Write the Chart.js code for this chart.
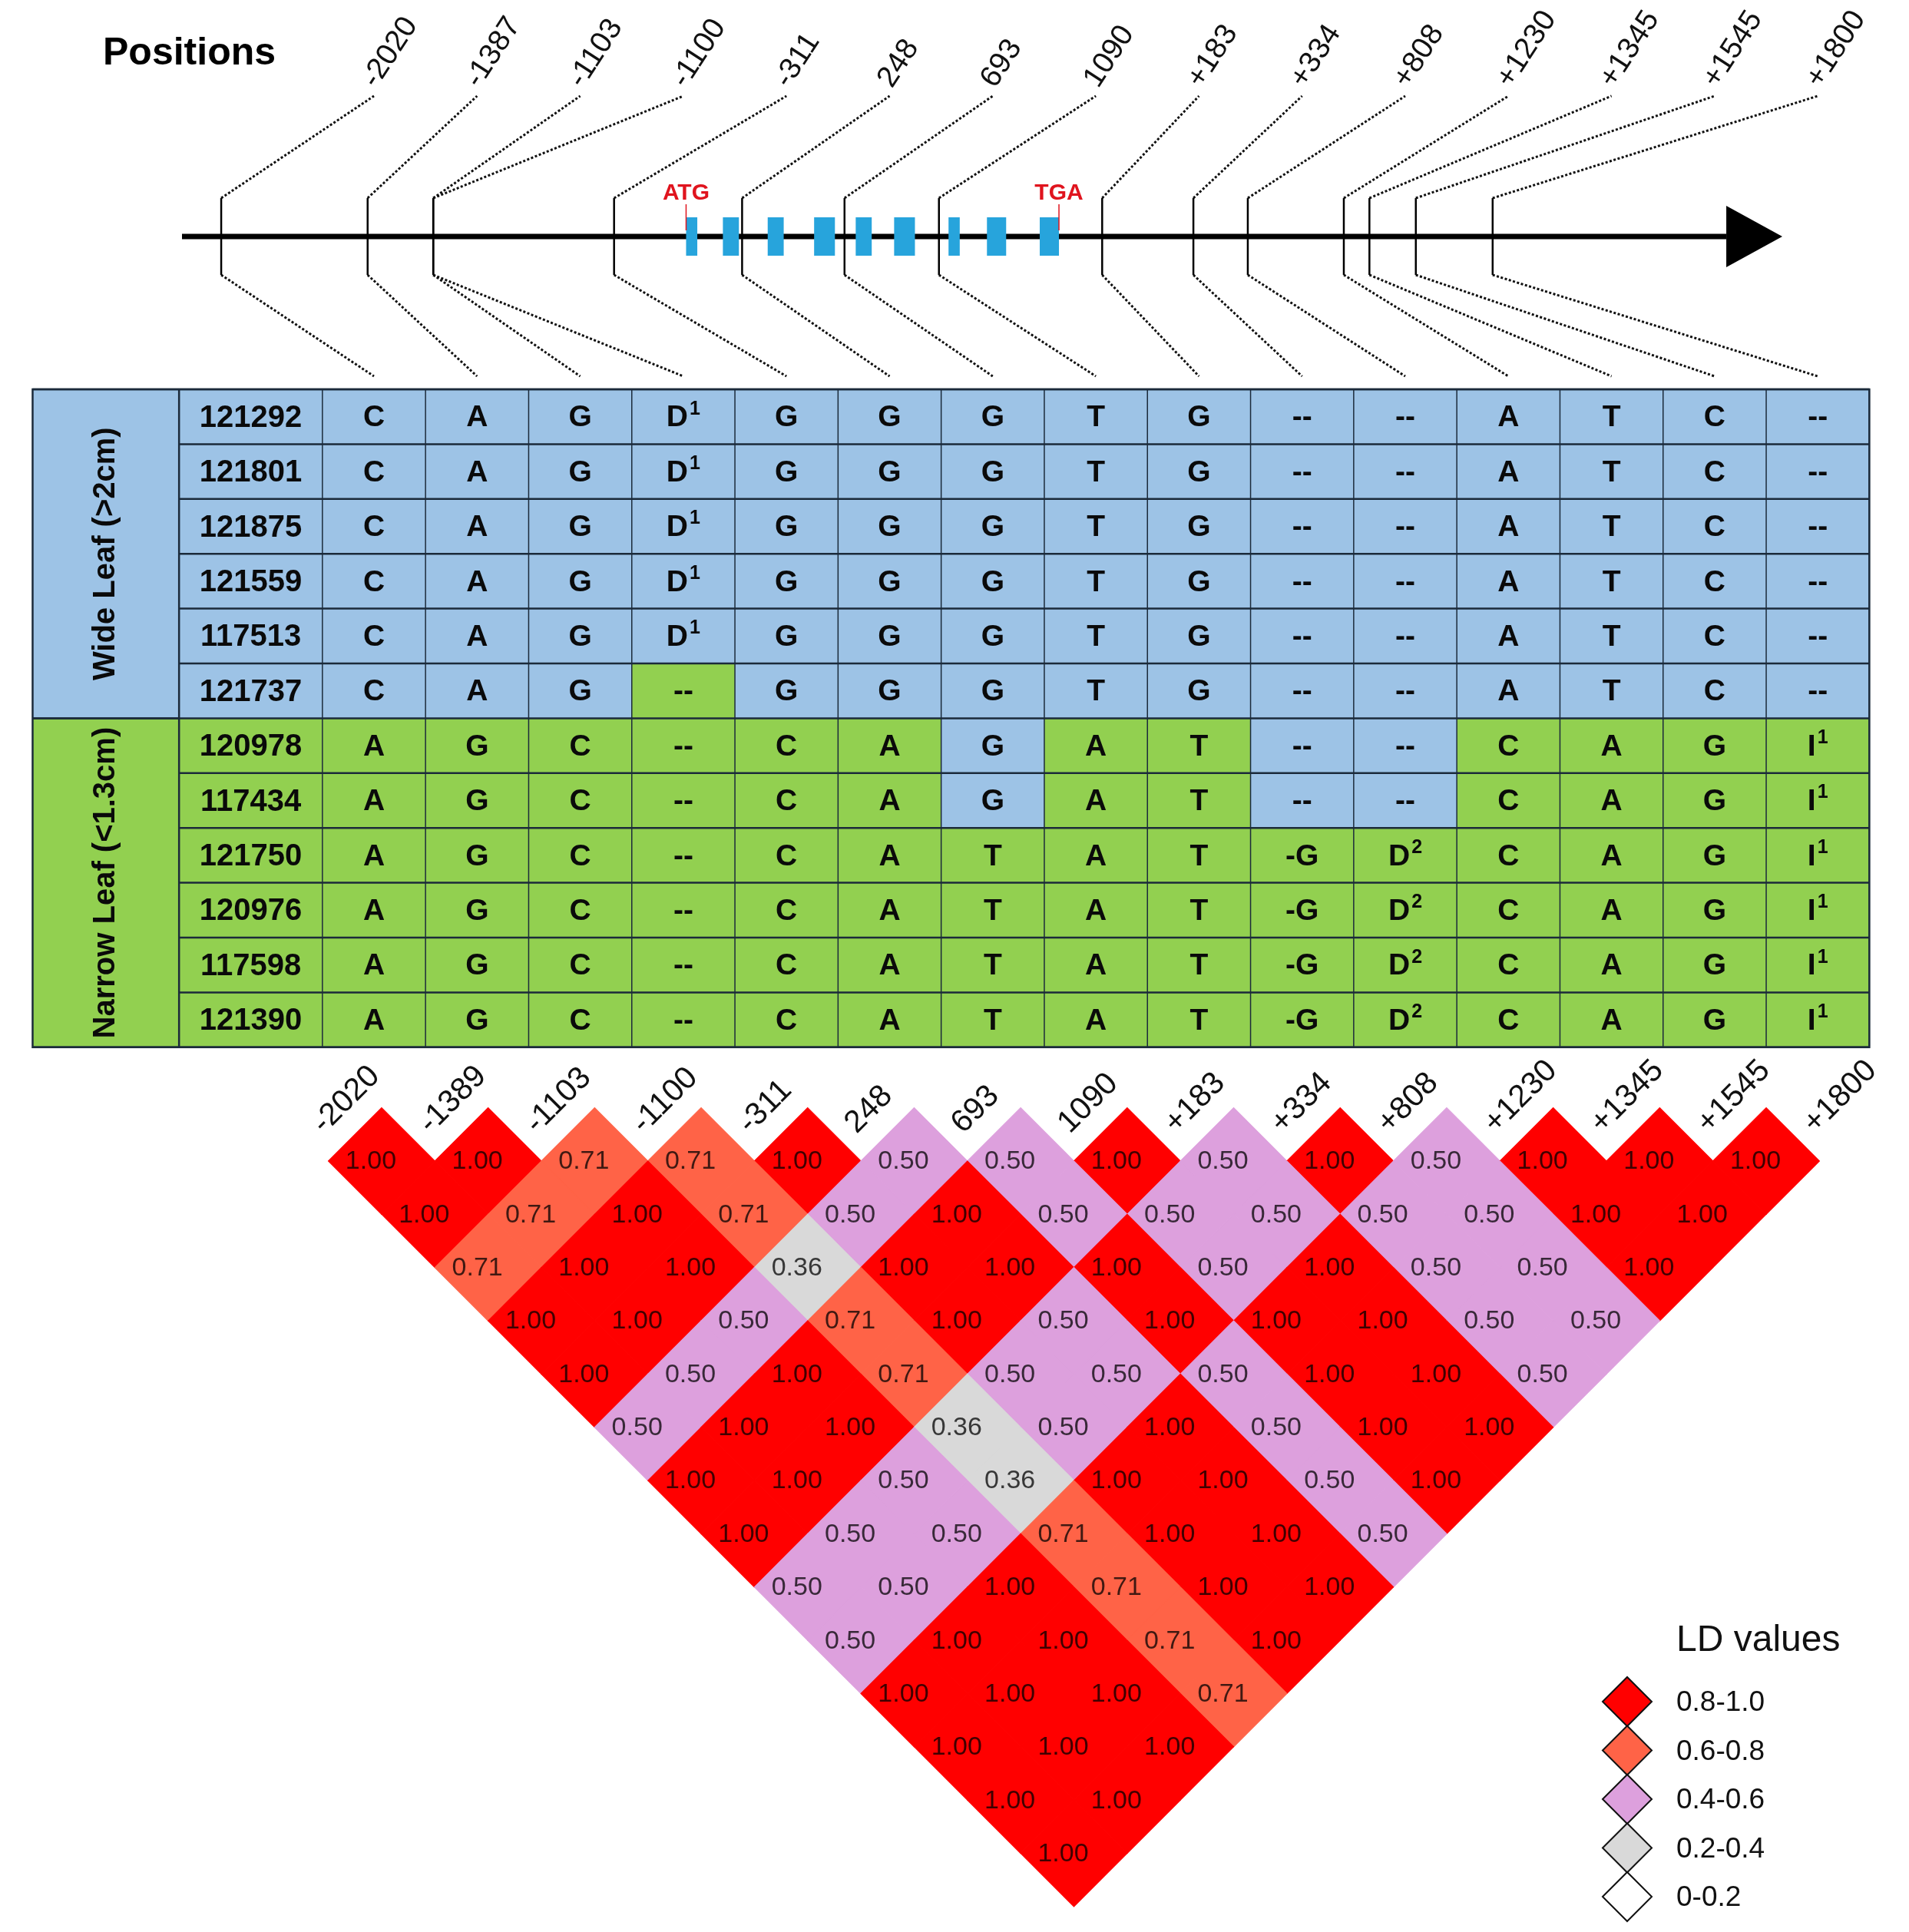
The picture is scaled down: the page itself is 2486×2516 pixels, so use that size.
<!DOCTYPE html>
<html lang="en">
<head>
<meta charset="UTF-8">
<title>Haplotypes and LD</title>
<script src="https://cdnjs.cloudflare.com/ajax/libs/Chart.js/4.4.0/chart.umd.min.js"></script>
<style>
  html, body { margin: 0; padding: 0; background: #fff; overflow: hidden; }
  .wrap { width: 2486px; height: 2516px; position: relative; }
</style>
</head>
<body>
<div class="wrap"><canvas id="chart"></canvas></div>
<script>
// ---- data ----
const snpLabels = ["-2020", "-1387", "-1103", "-1100", "-311", "248", "693", "1090", "+183", "+334", "+808", "+1230", "+1345", "+1545", "+1800"];
const ldLabels  = ["-2020", "-1389", "-1103", "-1100", "-311", "248", "693", "1090", "+183", "+334", "+808", "+1230", "+1345", "+1545", "+1800"];

// schematic gene map, backbone runs 0..100
const snpMapPos = [2.45, 11.6, 15.7, 15.7, 27.0, 35.0, 41.4, 47.3, 57.5, 63.2, 66.6, 72.6, 74.2, 77.1, 81.9];
const exonStart = [31.5, 33.8, 36.6, 39.5, 42.1, 44.5, 47.9, 50.3, 53.6];
const exonEnd   = [32.2, 34.8, 37.6, 40.8, 43.1, 45.8, 48.6, 51.5, 54.8];

const groupNames = ["Wide Leaf (>2cm)", "Narrow Leaf (<1.3cm)"];
const sampleIds = ["121292", "121801", "121875", "121559", "117513", "121737",
                   "120978", "117434", "121750", "120976", "117598", "121390"];
const sampleGroup = [0, 0, 0, 0, 0, 0, 1, 1, 1, 1, 1, 1];
const haplotypes = [
  ["C", "A", "G", "D^1", "G", "G", "G", "T", "G", "--", "--", "A", "T", "C", "--"],
  ["C", "A", "G", "D^1", "G", "G", "G", "T", "G", "--", "--", "A", "T", "C", "--"],
  ["C", "A", "G", "D^1", "G", "G", "G", "T", "G", "--", "--", "A", "T", "C", "--"],
  ["C", "A", "G", "D^1", "G", "G", "G", "T", "G", "--", "--", "A", "T", "C", "--"],
  ["C", "A", "G", "D^1", "G", "G", "G", "T", "G", "--", "--", "A", "T", "C", "--"],
  ["C", "A", "G", "--",  "G", "G", "G", "T", "G", "--", "--", "A", "T", "C", "--"],
  ["A", "G", "C", "--",  "C", "A", "G", "A", "T", "--", "--", "C", "A", "G", "I^1"],
  ["A", "G", "C", "--",  "C", "A", "G", "A", "T", "--", "--", "C", "A", "G", "I^1"],
  ["A", "G", "C", "--",  "C", "A", "T", "A", "T", "-G", "D^2", "C", "A", "G", "I^1"],
  ["A", "G", "C", "--",  "C", "A", "T", "A", "T", "-G", "D^2", "C", "A", "G", "I^1"],
  ["A", "G", "C", "--",  "C", "A", "T", "A", "T", "-G", "D^2", "C", "A", "G", "I^1"],
  ["A", "G", "C", "--",  "C", "A", "T", "A", "T", "-G", "D^2", "C", "A", "G", "I^1"]
];

// LD values, one list per SNP distance (1 = neighbours)
const ldByDistance = [
  [1.00, 1.00, 0.71, 0.71, 1.00, 0.50, 0.50, 1.00, 0.50, 1.00, 0.50, 1.00, 1.00, 1.00],
  [1.00, 0.71, 1.00, 0.71, 0.50, 1.00, 0.50, 0.50, 0.50, 0.50, 0.50, 1.00, 1.00],
  [0.71, 1.00, 1.00, 0.36, 1.00, 1.00, 1.00, 0.50, 1.00, 0.50, 0.50, 1.00],
  [1.00, 1.00, 0.50, 0.71, 1.00, 0.50, 1.00, 1.00, 1.00, 0.50, 0.50],
  [1.00, 0.50, 1.00, 0.71, 0.50, 0.50, 0.50, 1.00, 1.00, 0.50],
  [0.50, 1.00, 1.00, 0.36, 0.50, 1.00, 0.50, 1.00, 1.00],
  [1.00, 1.00, 0.50, 0.36, 1.00, 1.00, 0.50, 1.00],
  [1.00, 0.50, 0.50, 0.71, 1.00, 1.00, 0.50],
  [0.50, 0.50, 1.00, 0.71, 1.00, 1.00],
  [0.50, 1.00, 1.00, 0.71, 1.00],
  [1.00, 1.00, 1.00, 0.71],
  [1.00, 1.00, 1.00],
  [1.00, 1.00],
  [1.00]
];

const ldBinLabels = ["0.8-1.0", "0.6-0.8", "0.4-0.6", "0.2-0.4", "0-0.2"];
const ldBinMin = [0.8, 0.6, 0.4, 0.2, 0];

// ---- styles ----
const FONT = "'Liberation Sans', Arial, sans-serif";
const ldColors = ["#ff0000", "#ff6347", "#dda0dd", "#d9d9d9", "#ffffff"];
const wideColor = "#9dc3e6";
const narrowColor = "#92d050";
const exonColor = "#27a4dc";
const gridColor = "#1b2a3a";

const W = 2486, H = 2516;

function fitScale(v0, p0, v1, p1, size) {
  const k = (v1 - v0) / (p1 - p0);
  const min = v0 - p0 * k;
  return { min: min, max: min + size * k };
}

function binOf(v) {
  return ldBinMin.findIndex(m => v >= m);
}

const ldPoints = [];
ldByDistance.forEach((row, k) => {
  const d = k + 1;
  row.forEach((v, i) => ldPoints.push({ x: i + d / 2, y: d, v: v }));
});

function seg(ctx, x1, y1, x2, y2) {
  ctx.beginPath();
  ctx.moveTo(x1, y1);
  ctx.lineTo(x2, y2);
  ctx.stroke();
}

// allele text, "D^1" -> D with superscript 1
function drawAllele(ctx, txt, cx, cy) {
  const parts = txt.split("^");
  ctx.font = "bold 39px " + FONT;
  const w1 = ctx.measureText(parts[0]).width;
  let w2 = 0;
  if (parts[1]) {
    ctx.font = "bold 25px " + FONT;
    w2 = ctx.measureText(parts[1]).width + 2;
  }
  const x0 = cx - (w1 + w2) / 2;
  ctx.textAlign = "left";
  ctx.textBaseline = "middle";
  ctx.font = "bold 39px " + FONT;
  ctx.fillText(parts[0], x0, cy);
  if (parts[1]) {
    ctx.font = "bold 25px " + FONT;
    ctx.fillText(parts[1], x0 + w1 + 2, cy - 12);
  }
}

const mapAndTable = {
  id: "mapAndTable",
  beforeDatasetsDraw(chart) {
    const ctx = chart.ctx, s = chart.scales;
    const gx = v => s.gX.getPixelForValue(v), gy = v => s.gY.getPixelForValue(v);
    const tx = v => s.tX.getPixelForValue(v), ty = v => s.tY.getPixelForValue(v);
    ctx.save();

    // title
    ctx.fillStyle = "#000";
    ctx.font = "bold 50px " + FONT;
    ctx.textAlign = "left";
    ctx.textBaseline = "alphabetic";
    ctx.fillText("Positions", 134, 84);

    // backbone and arrow
    ctx.strokeStyle = "#000";
    ctx.lineWidth = 7;
    seg(ctx, gx(0), gy(0), gx(96.5), gy(0));
    ctx.beginPath();
    ctx.moveTo(gx(96.5), gy(-0.8));
    ctx.lineTo(gx(100), gy(0));
    ctx.lineTo(gx(96.5), gy(0.8));
    ctx.closePath();
    ctx.fill();

    // exons
    ctx.fillStyle = exonColor;
    exonStart.forEach((a, k) => {
      ctx.fillRect(gx(a), gy(-0.5), gx(exonEnd[k]) - gx(a), gy(0.5) - gy(-0.5));
    });

    // start / stop codons
    const codons = [["ATG", exonStart[0]], ["TGA", exonEnd[exonEnd.length - 1]]];
    ctx.strokeStyle = "#e0141e";
    ctx.fillStyle = "#e0141e";
    ctx.lineWidth = 1.5;
    ctx.font = "bold 30px " + FONT;
    ctx.textAlign = "center";
    ctx.textBaseline = "middle";
    codons.forEach(c => {
      seg(ctx, gx(c[1]), gy(-0.84), gx(c[1]), gy(-0.16));
      ctx.fillText(c[0], gx(c[1]), gy(-1.12));
    });

    // SNP ticks
    ctx.strokeStyle = "#000";
    ctx.lineWidth = 2.5;
    snpMapPos.forEach(p => seg(ctx, gx(p), gy(-1), gx(p), gy(1)));

    // dotted connectors
    ctx.setLineDash([3, 2.5]);
    ctx.lineWidth = 3;
    ctx.strokeStyle = "#111";
    snpMapPos.forEach((p, i) => {
      seg(ctx, gx(p), gy(-1), tx(i), gy(-3.66));
      seg(ctx, gx(p), gy(1), tx(i), gy(3.64));
    });
    ctx.setLineDash([]);

    // position labels
    ctx.fillStyle = "#111";
    ctx.font = "39px " + FONT;
    ctx.textAlign = "left";
    ctx.textBaseline = "alphabetic";
    snpLabels.forEach((lab, i) => {
      ctx.save();
      ctx.translate(tx(i) + 3, gy(-3.84));
      ctx.rotate(-57 * Math.PI / 180);
      ctx.fillText(lab, 0, 0);
      ctx.restore();
    });

    // ---- haplotype table ----
    const idLeft = -1.89, groupLeft = -3.31, right = snpLabels.length - 0.5;
    const nRows = sampleIds.length;
    haplotypes.forEach((row, r) => {
      const grpColor = sampleGroup[r] === 0 ? wideColor : narrowColor;
      ctx.fillStyle = grpColor;
      ctx.fillRect(tx(idLeft), ty(r - 0.5), tx(-0.5) - tx(idLeft), ty(r + 0.5) - ty(r - 0.5));
      row.forEach((a, c) => {
        ctx.fillStyle = a === haplotypes[0][c] ? wideColor : narrowColor;
        ctx.fillRect(tx(c - 0.5), ty(r - 0.5), tx(c + 0.5) - tx(c - 0.5), ty(r + 0.5) - ty(r - 0.5));
      });
    });
    const groupSpans = groupNames.map((g, k) => {
      const rows = sampleGroup.map((v, r) => v === k ? r : -1).filter(r => r >= 0);
      return [rows[0], rows[rows.length - 1]];
    });
    groupSpans.forEach((sp, k) => {
      ctx.fillStyle = k === 0 ? wideColor : narrowColor;
      ctx.fillRect(tx(groupLeft), ty(sp[0] - 0.5), tx(idLeft) - tx(groupLeft), ty(sp[1] + 0.5) - ty(sp[0] - 0.5));
    });

    // grid
    ctx.strokeStyle = gridColor;
    ctx.lineWidth = 1.5;
    for (let c = 0; c <= snpLabels.length; c++) seg(ctx, tx(c - 0.5), ty(-0.5), tx(c - 0.5), ty(nRows - 0.5));
    ctx.lineWidth = 2.5;
    seg(ctx, tx(idLeft), ty(-0.5), tx(idLeft), ty(nRows - 0.5));
    for (let r = 0; r <= nRows; r++) seg(ctx, tx(idLeft), ty(r - 0.5), tx(right), ty(r - 0.5));
    groupSpans.forEach(sp => {
      seg(ctx, tx(groupLeft), ty(sp[0] - 0.5), tx(idLeft), ty(sp[0] - 0.5));
      seg(ctx, tx(groupLeft), ty(sp[1] + 0.5), tx(idLeft), ty(sp[1] + 0.5));
    });
    ctx.strokeRect(tx(groupLeft), ty(-0.5), tx(right) - tx(groupLeft), ty(nRows - 0.5) - ty(-0.5));

    // table text
    ctx.fillStyle = "#0a0a0a";
    groupSpans.forEach((sp, k) => {
      ctx.save();
      ctx.translate((tx(groupLeft) + tx(idLeft)) / 2, (ty(sp[0]) + ty(sp[1])) / 2);
      ctx.rotate(-Math.PI / 2);
      ctx.font = "bold 40px " + FONT;
      ctx.textAlign = "center";
      ctx.textBaseline = "middle";
      ctx.fillText(groupNames[k], 0, 0);
      ctx.restore();
    });
    sampleIds.forEach((id, r) => {
      ctx.font = "bold 40px " + FONT;
      ctx.textAlign = "center";
      ctx.textBaseline = "middle";
      ctx.fillText(id, (tx(idLeft) + tx(-0.5)) / 2, ty(r) + 2);
      haplotypes[r].forEach((a, c) => drawAllele(ctx, a, tx(c), ty(r) + 2));
    });
    ctx.restore();
  },

  afterDatasetsDraw(chart) {
    const ctx = chart.ctx, s = chart.scales;
    const lx = v => s.ldX.getPixelForValue(v), ly = v => s.ldY.getPixelForValue(v);
    ctx.save();

    // LD values inside cells
    const meta = chart.getDatasetMeta(0);
    ctx.fillStyle = "rgba(0,0,0,0.75)";
    ctx.font = "34px " + FONT;
    ctx.textAlign = "center";
    ctx.textBaseline = "middle";
    meta.data.forEach((el, k) => {
      ctx.fillText(ldPoints[k].v.toFixed(2), el.x - 14, el.y + 1);
    });

    // SNP labels over the triangle
    ctx.fillStyle = "#111";
    ctx.font = "41px " + FONT;
    ctx.textAlign = "left";
    ctx.textBaseline = "alphabetic";
    ldLabels.forEach((lab, i) => {
      ctx.save();
      ctx.translate(lx(i - 0.04), ly(0.5));
      ctx.rotate(-Math.PI / 4);
      ctx.fillText(lab, 0, 0);
      ctx.restore();
    });

    // legend
    const legX = 2119, legY = 2216, legStep = 63.5, legHalf = 32;
    ctx.fillStyle = "#111";
    ctx.font = "48px " + FONT;
    ctx.fillText("LD values", 2183, 2150);
    ctx.font = "37px " + FONT;
    ctx.textBaseline = "middle";
    ctx.lineWidth = 2;
    ctx.strokeStyle = "#111";
    ldBinLabels.forEach((lab, k) => {
      const cy = legY + k * legStep;
      ctx.beginPath();
      ctx.moveTo(legX - legHalf, cy);
      ctx.lineTo(legX, cy - legHalf);
      ctx.lineTo(legX + legHalf, cy);
      ctx.lineTo(legX, cy + legHalf);
      ctx.closePath();
      ctx.fillStyle = ldColors[k];
      ctx.fill();
      ctx.stroke();
      ctx.fillStyle = "#111";
      ctx.fillText(lab, 2183, cy + 2);
    });
    ctx.restore();
  }
};

const ldStep = 138.7;
const rowStep = 71.4;
const scales = {
  ldX: Object.assign({ type: "linear", position: "bottom", display: false }, fitScale(0, 427.6, 14, 427.6 + 14 * ldStep, W)),
  ldY: Object.assign({ type: "linear", position: "left", display: false, reverse: true }, fitScale(1, 1512, 14, 1512 + 13 * ldStep / 2, H)),
  tX: Object.assign({ type: "linear", position: "bottom", display: false }, fitScale(0, 487, 14, 487 + 14 * 134.3, W)),
  tY: Object.assign({ type: "linear", position: "left", display: false, reverse: true }, fitScale(0, 542.7, 11, 542.7 + 11 * rowStep, H)),
  gX: Object.assign({ type: "linear", position: "bottom", display: false }, fitScale(0, 237, 100, 2321, W)),
  gY: Object.assign({ type: "linear", position: "left", display: false, reverse: true }, fitScale(0, 308, 1, 358, H))
};

const cellColor = ctx => {
  const p = ctx.raw;
  return p ? ldColors[binOf(p.v)] : ldColors[0];
};

new Chart(document.getElementById("chart"), {
  type: "scatter",
  data: {
    datasets: [{
      label: "LD",
      data: ldPoints,
      xAxisID: "ldX",
      yAxisID: "ldY",
      pointStyle: "rectRot",
      pointRadius: ctx => ctx.chart.scales.ldX.getPixelForValue(0.5) - ctx.chart.scales.ldX.getPixelForValue(0),
      backgroundColor: cellColor,
      borderColor: cellColor,
      borderWidth: 1.2
    }]
  },
  options: {
    responsive: true,
    maintainAspectRatio: false,
    animation: false,
    events: [],
    layout: { padding: 0 },
    scales: scales,
    plugins: {
      legend: { display: false },
      tooltip: { enabled: false }
    }
  },
  plugins: [mapAndTable]
});
</script>
</body>
</html>
